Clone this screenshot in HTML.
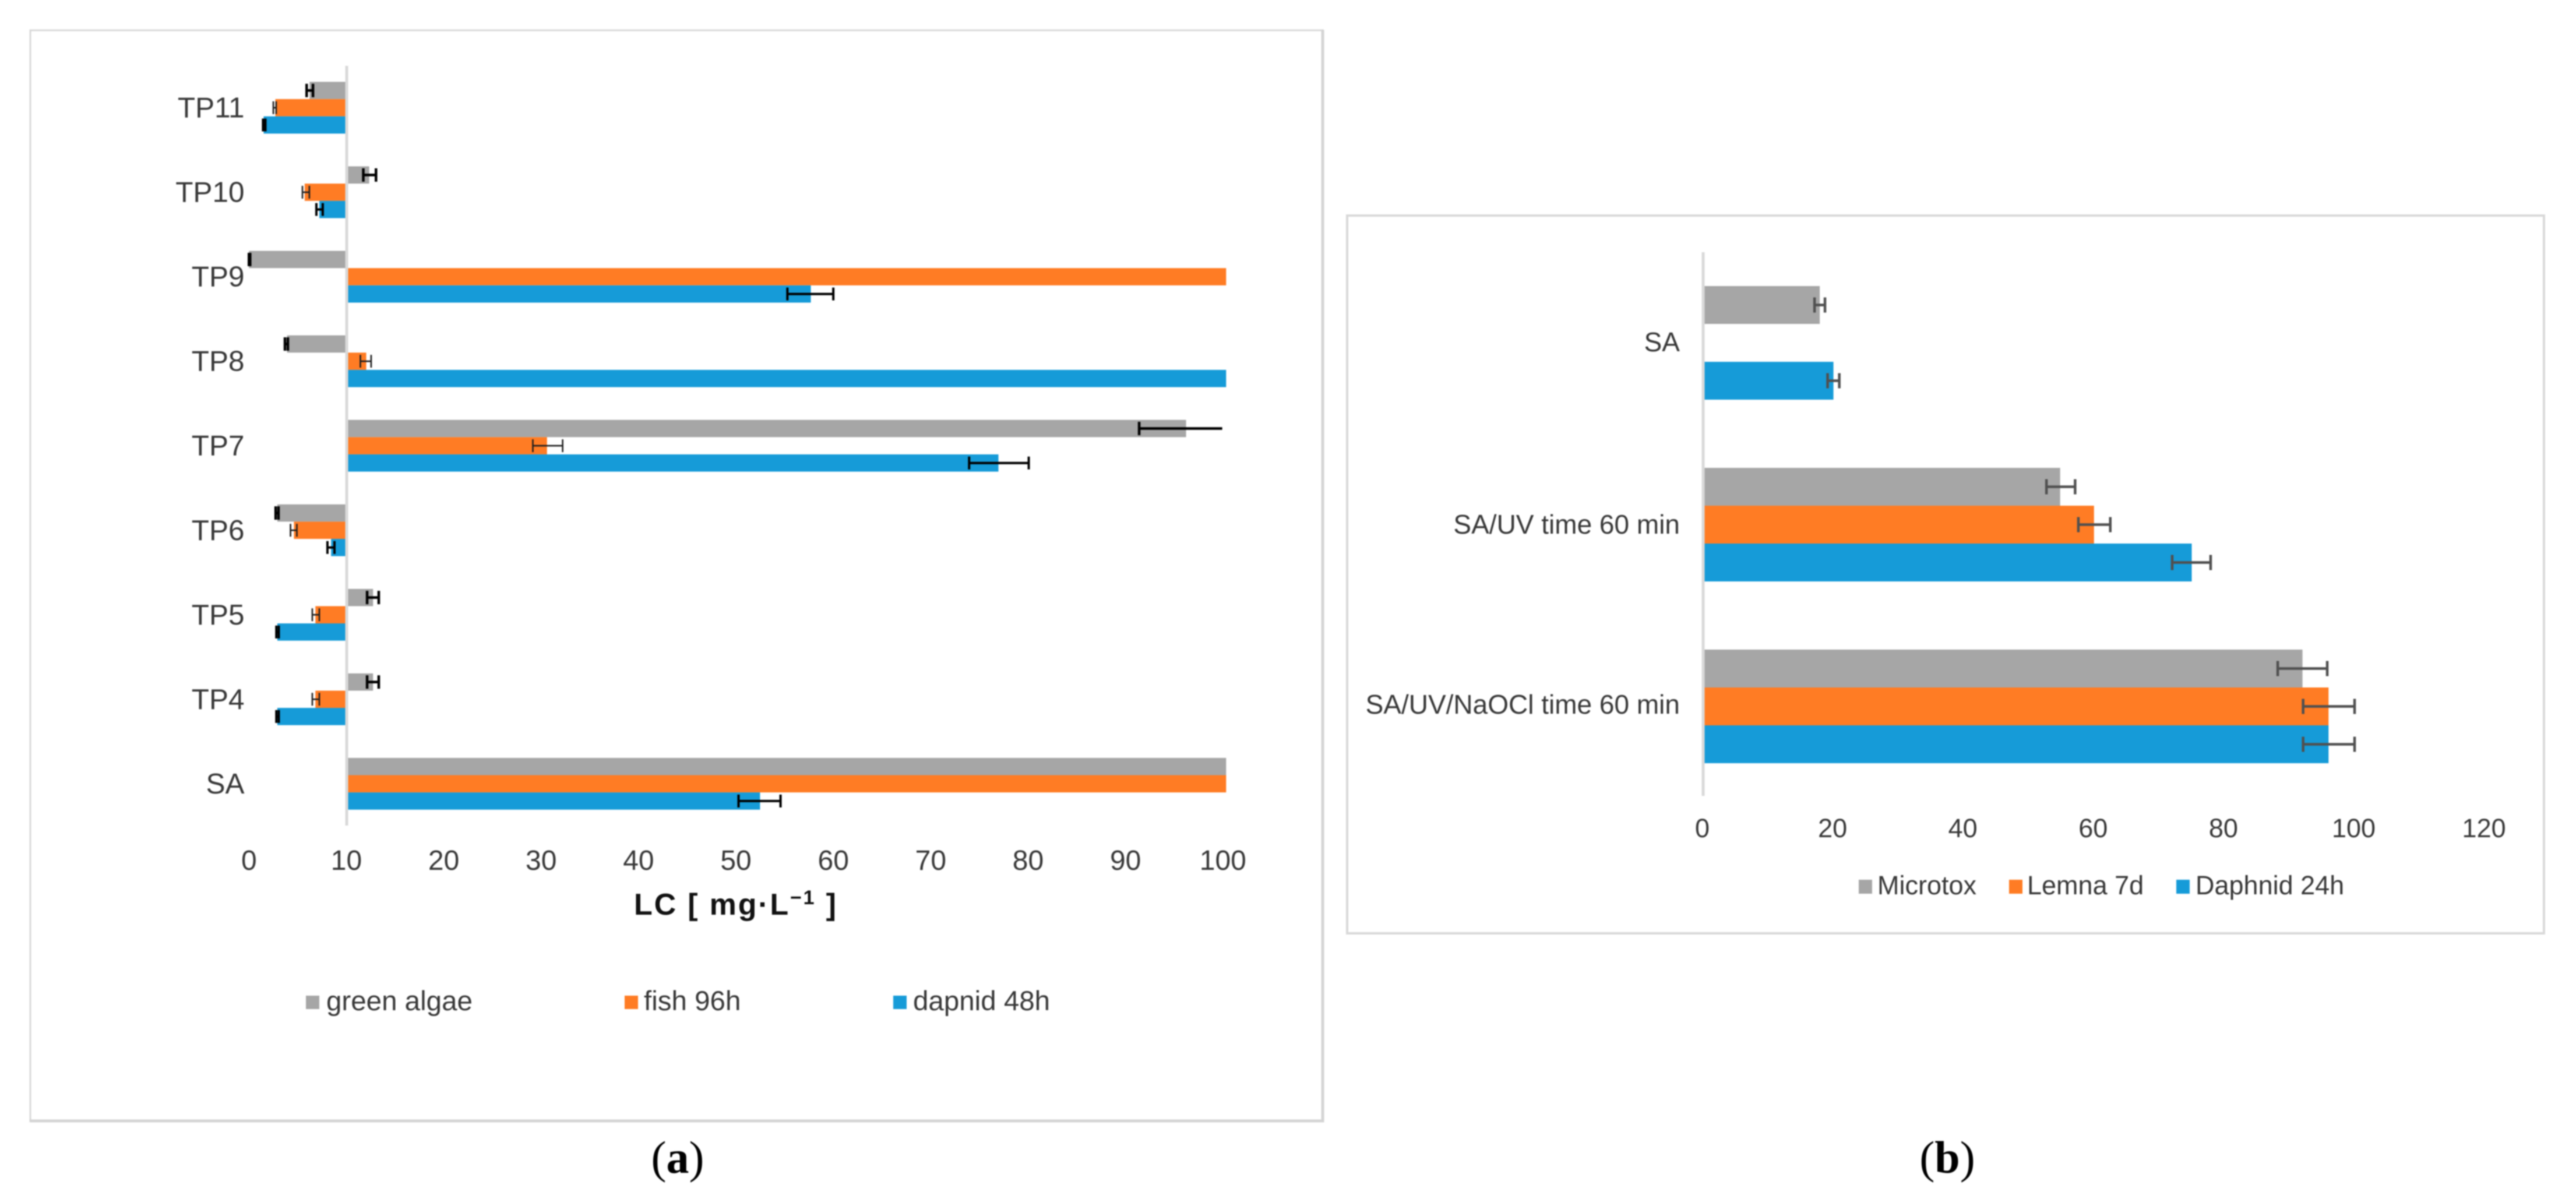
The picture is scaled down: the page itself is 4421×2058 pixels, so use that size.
<!DOCTYPE html>
<html lang="en">
<head>
<meta charset="utf-8">
<title>Toxicity bar charts</title>
<style>
html,body{margin:0;padding:0;background:#fff;width:4421px;height:2058px;overflow:hidden}
svg{display:block;position:absolute;left:0;top:0;filter:blur(1px)}
text{font-family:"Liberation Sans",Arial,sans-serif;fill:#383838}
.cap{font-family:"Liberation Serif",serif;fill:#000}
</style>
</head>
<body>
<svg id="fig" xmlns="http://www.w3.org/2000/svg" width="4421" height="2058" viewBox="0 0 4421 2058">
  <rect x="0" y="0" width="4421" height="2058" fill="#ffffff"/>
  <g id="panelA">
    <rect x="52" y="52" width="2218" height="1872" fill="#ffffff" stroke="#d9d9d9" stroke-width="3"/>
    <line x1="2270" x2="2270" y1="51" y2="1926" stroke="#d4d4d4" stroke-width="5"/>
    <line x1="51" x2="2272" y1="1924" y2="1924" stroke="#d4d4d4" stroke-width="5"/>
    <text x="1088" y="1570" font-size="52" font-weight="bold" style="fill:#111111" textLength="347" lengthAdjust="spacing">LC [ mg·L<tspan dy="-18" font-size="34">−1</tspan><tspan dy="18"> ]</tspan></text>
    <text class="cap" x="1163" y="2013" font-size="78" text-anchor="middle">(<tspan font-weight="bold">a</tspan>)</text>
  </g>
  <g id="panelB">
    <rect x="2312" y="370" width="2054" height="1232" fill="#ffffff" stroke="#d9d9d9" stroke-width="4"/>
    <text class="cap" x="3342" y="2013" font-size="78" text-anchor="middle">(<tspan font-weight="bold">b</tspan>)</text>
  </g>
</svg>
<script>
// ---------- Panel A data (categories top to bottom) ----------
const categoriesA = ["TP11","TP10","TP9","TP8","TP7","TP6","TP5","TP4","SA"];
const ticksA = [0,10,20,30,40,50,60,70,80,90,100];
const seriesNamesA = ["green algae","fish 96h","dapnid 48h"];
const greenAlgae = [6.2,12.3,0,3.9,95.9,2.9,12.7,12.7,100];
const fish96h = [2.7,5.7,100,12,30.5,4.6,6.8,6.8,100];
const dapnid48h = [1.5,7.2,57.5,100,76.7,8.4,2.9,2.9,52.3];
const greenAlgaeLow = [5.9,11.7,0,3.68,91.1,2.73,12.09,12.09,null];
const greenAlgaeHigh = [6.55,13,0.12,3.98,99.6,3.02,13.28,13.28,null];
const fish96hLow = [2.49,5.47,null,11.4,29.05,4.25,6.48,6.48,null];
const fish96hHigh = [2.78,6.18,null,12.5,32.1,4.9,7.2,7.2,null];
const dapnid48hLow = [1.44,6.9,55.1,null,73.7,8.03,2.8,2.8,50.1];
const dapnid48hHigh = [1.68,7.55,59.8,null,79.8,8.75,3.05,3.05,54.4];

// ---------- Panel B data (categories top to bottom) ----------
const categoriesB = ["SA","SA/UV time 60 min","SA/UV/NaOCl time 60 min"];
const ticksB = [0,20,40,60,80,100,120];
const seriesNamesB = ["Microtox","Lemna 7d","Daphnid 24h"];
const microtox = [17.9,54.8,92];
const lemna7d = [null,60,96];
const daphnid24h = [20,75,96];
const microtoxLow = [17.1,52.7,88.2];
const microtoxHigh = [18.7,57.1,95.8];
const lemna7dLow = [null,57.6,92.1];
const lemna7dHigh = [null,62.5,100];
const daphnid24hLow = [19.1,72,92.1];
const daphnid24hHigh = [20.9,77.9,100];

const seriesColors = ["#a6a6a6","#ff7c24","#169bd8"];
const NS = "http://www.w3.org/2000/svg";
const panelA = document.getElementById("panelA");
const panelB = document.getElementById("panelB");

function make(tag, attrs, parent, txt){
  const n = document.createElementNS(NS, tag);
  for (const k in attrs) n.setAttribute(k, attrs[k]);
  if (txt !== undefined) n.textContent = txt;
  parent.appendChild(n);
  return n;
}

// Axis functions
function xA(v){ return 595 + (v - 10) * 16.77; }
function xB(v){ return 2923 + v * 11.18; }
function groupTopA(i){ return 140.5 + i * 145.05; }
function groupTopB(i){ return 491 + i * 312; }

function drawBars(panel, key, xf, base, values, seriesIdx, groupTop, barH, seriesName, cats){
  values.forEach(function(v, i){
    if (v === null) return;
    const y = groupTop(i) + seriesIdx * barH;
    const a = xf(base), b = xf(v);
    const r = make("rect", {x: Math.min(a,b), y: y, width: Math.abs(b-a), height: barH, fill: seriesColors[seriesIdx]}, panel);
    
    
  });
}

function drawErrors(panel, key, xf, lows, highs, seriesIdx, groupTop, barH, capH, sw, color, capLimit, cats){
  lows.forEach(function(lo, i){
    if (lo === null) return;
    const hi = highs[i];
    const cy = groupTop(i) + seriesIdx * barH + barH / 2;
    const g = make("g", {stroke: color, "stroke-width": sw, fill: "none"}, panel);
    
    
    make("line", {x1: xf(lo), x2: xf(hi), y1: cy, y2: cy}, g);
    make("line", {x1: xf(lo), x2: xf(lo), y1: cy - capH/2, y2: cy + capH/2}, g);
    if (hi < capLimit) make("line", {x1: xf(hi), x2: xf(hi), y1: cy - capH/2, y2: cy + capH/2}, g);
  });
}

// ---------- Panel A ----------
drawBars(panelA, "a", xA, 10, greenAlgae, 0, groupTopA, 29.6, seriesNamesA[0], categoriesA);
drawBars(panelA, "a", xA, 10, fish96h, 1, groupTopA, 29.6, seriesNamesA[1], categoriesA);
drawBars(panelA, "a", xA, 10, dapnid48h, 2, groupTopA, 29.6, seriesNamesA[2], categoriesA);

const axisLineA = make("line", {x1: 595, x2: 595, y1: 113, y2: 1417, stroke: "#d9d9d9", "stroke-width": 5}, panelA);



drawErrors(panelA, "a", xA, greenAlgaeLow, greenAlgaeHigh, 0, groupTopA, 29.6, 23, 4.5, "#000000", 99, categoriesA);
drawErrors(panelA, "a", xA, fish96hLow, fish96hHigh, 1, groupTopA, 29.6, 22, 2.6, "#1e1e1e", 99, categoriesA);
drawErrors(panelA, "a", xA, dapnid48hLow, dapnid48hHigh, 2, groupTopA, 29.6, 22, 4, "#000000", 99, categoriesA);

categoriesA.forEach(function(c, i){
  const t = make("text", {x: 419.5, y: groupTopA(i) + 61, "font-size": 49.5, "text-anchor": "end"}, panelA, c);
  
  
});
ticksA.forEach(function(v){
  const t = make("text", {x: xA(v) - v * 0.055, y: 1493, "font-size": 48, "text-anchor": "middle"}, panelA, String(v));
  
  
});

const legendSwatchA = [525,1072,1533];
const legendTextA = [560,1105,1567];
seriesNamesA.forEach(function(n, i){
  const s = make("rect", {x: legendSwatchA[i], y: 1709, width: 23, height: 23, fill: seriesColors[i]}, panelA);
  
  
  const t = make("text", {x: legendTextA[i], y: 1734, "font-size": 47.5}, panelA, n);
  
  
});

// ---------- Panel B ----------
drawBars(panelB, "b", xB, 0, microtox, 0, groupTopB, 65, seriesNamesB[0], categoriesB);
drawBars(panelB, "b", xB, 0, lemna7d, 1, groupTopB, 65, seriesNamesB[1], categoriesB);
drawBars(panelB, "b", xB, 0, daphnid24h, 2, groupTopB, 65, seriesNamesB[2], categoriesB);

const axisLineB = make("line", {x1: 2923, x2: 2923, y1: 433, y2: 1366, stroke: "#d9d9d9", "stroke-width": 5}, panelB);



drawErrors(panelB, "b", xB, microtoxLow, microtoxHigh, 0, groupTopB, 65, 26, 4.5, "#505050", 200, categoriesB);
drawErrors(panelB, "b", xB, lemna7dLow, lemna7dHigh, 1, groupTopB, 65, 26, 4.5, "#505050", 200, categoriesB);
drawErrors(panelB, "b", xB, daphnid24hLow, daphnid24hHigh, 2, groupTopB, 65, 26, 4.5, "#505050", 200, categoriesB);

const labelYB = [603,916,1225];
categoriesB.forEach(function(c, i){
  const t = make("text", {x: 2883, y: labelYB[i], "font-size": 46, "text-anchor": "end"}, panelB, c);
  
  
});
ticksB.forEach(function(v){
  const t = make("text", {x: xB(v) - 1.5, y: 1437, "font-size": 45, "text-anchor": "middle"}, panelB, String(v));
  
  
});

const legendSwatchB = [3190,3448,3735];
const legendTextB = [3222,3479,3768];
seriesNamesB.forEach(function(n, i){
  const s = make("rect", {x: legendSwatchB[i], y: 1510, width: 23, height: 24, fill: seriesColors[i]}, panelB);
  
  
  const t = make("text", {x: legendTextB[i], y: 1535, "font-size": 45}, panelB, n);
  
  
});
</script>
</body>
</html>
